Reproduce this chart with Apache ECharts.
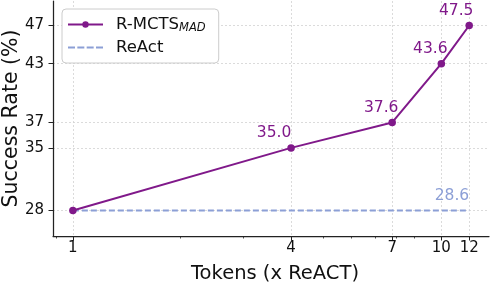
<!DOCTYPE html>
<html><head><meta charset="utf-8">
<script src="https://cdn.jsdelivr.net/npm/echarts@6/dist/echarts.min.js"></script>
<style>html,body{margin:0;padding:0;background:#fff}#c{width:491px;height:283px}</style>
</head><body><div id="c"></div>
<script>
// ---- data ----
const tokens = [1, 4.07, 7.8, 10.7, 12.8];
const tokenTickLabels = ['1', '4', '7', '10', '12'];
const rmctsValues = [28.6, 35.0, 37.6, 43.6, 47.5];
const reactTokens = [1, 12.8];
const reactValues = [28.6, 28.6];
const yTickValues = [28.6, 35.0, 37.6, 43.6, 47.5];
const yTickLabels = ['28', '35', '37', '43', '47'];
const minorTickValues = [0.9, 2, 3, 5, 6, 7, 8, 9];

// ---- styles ----
const FONT = 'DejaVu Sans';
const PURPLE = '#80198a';
const BLUE = '#8c9fd6';
const AXIS = '#222222';
const labelOffsets = [null, [-17, 0], [-11, 0], [-11, 0], [-13, 0]];
const gridLine = { show: true, lineStyle: { type: [2, 2], color: '#d2d2d2', width: 0.8 } };
const dashedIcon = 'path://M0,0h7v2h-7zM9.33,0h7v2h-7zM18.67,0h7v2h-7zM28,0h7v2h-7z';

const chart = echarts.init(document.getElementById('c'), null, { renderer: 'canvas' });

const rmctsData = tokens.map((x, i) => {
  const item = { value: [x, rmctsValues[i]] };
  if (labelOffsets[i]) {
    item.label = { show: true, position: 'top', distance: 3, offset: labelOffsets[i] };
  }
  return item;
});
const reactData = reactTokens.map((x, i) => ({ value: [x, reactValues[i]] }));

chart.setOption({
  animation: false,
  backgroundColor: '#ffffff',
  textStyle: { fontFamily: FONT },
  grid: { left: 53, right: 2, top: 1, bottom: 47, containLabel: false, outerBoundsMode: 'none' },
  legend: {
    orient: 'vertical', left: 62, top: 9,
    padding: [7, 13, 7, 5],
    itemWidth: 35, itemHeight: 8, itemGap: 5,
    backgroundColor: '#ffffff', borderColor: '#cccccc', borderWidth: 1, borderRadius: 4,
    data: [{ name: 'R-MCTS' }, { name: 'ReAct', icon: dashedIcon, itemStyle: { color: BLUE } }],
    formatter: name => name === 'R-MCTS' ? '{m|R-MCTS}{s|MAD}' : '{m|ReAct}',
    textStyle: {
      fontFamily: FONT, color: '#111111',
      rich: {
        m: { fontFamily: FONT, fontSize: 16.5, color: '#111111', padding: [0, 0, 0, 8] },
        s: { fontFamily: FONT, fontSize: 11.5, fontStyle: 'italic', color: '#111111', padding: [7, 0, 0, 0] }
      }
    }
  },
  xAxis: [{
    type: 'log', logBase: 10, min: 0.88, max: 14.54,
    name: 'Tokens (x ReACT)', nameLocation: 'middle', nameGap: 28,
    nameTextStyle: { fontFamily: FONT, fontSize: 19.5, color: '#111111', padding: [0, 0, 0, 8] },
    axisLine: { show: true, lineStyle: { color: AXIS, width: 1.25 } },
    axisTick: { show: true, customValues: tokens, length: 4.5, lineStyle: { color: AXIS, width: 1 } },
    axisLabel: {
      customValues: tokens, margin: 5, fontFamily: FONT, fontSize: 15, color: '#111111',
      formatter: v => { const k = tokens.indexOf(v); return k >= 0 ? tokenTickLabels[k] : String(Math.floor(v)); }
    },
    splitLine: gridLine,
    minorTick: { show: false }, minorSplitLine: { show: false }
  }, {
    type: 'log', logBase: 10, min: 0.88, max: 14.54, position: 'bottom',
    axisLine: { show: false },
    axisTick: { show: true, customValues: minorTickValues, length: 2.5, lineStyle: { color: AXIS, width: 0.8 } },
    axisLabel: { show: false },
    splitLine: { show: false }
  }],
  yAxis: {
    type: 'value', min: 26, max: 50,
    name: 'Success Rate (%)', nameLocation: 'middle', nameGap: 31, nameMoveOverlap: false,
    nameTextStyle: { fontFamily: FONT, fontSize: 20.5, color: '#111111' },
    axisLine: { show: true, lineStyle: { color: AXIS, width: 1.25 } },
    axisTick: { show: true, customValues: yTickValues, length: 4.5, lineStyle: { color: AXIS, width: 1 } },
    axisLabel: {
      customValues: yTickValues, margin: 9, fontFamily: FONT, fontSize: 15, color: '#111111',
      formatter: v => { const k = yTickValues.indexOf(v); return k >= 0 ? yTickLabels[k] : String(Math.floor(v)); }
    },
    splitLine: gridLine
  },
  series: [{
    name: 'ReAct', type: 'line', xAxisIndex: 0, yAxisIndex: 0,
    data: reactData, showSymbol: false, symbol: 'none', z: 2,
    lineStyle: { color: BLUE, width: 2, type: [6, 3] },
    itemStyle: { color: BLUE },
    endLabel: {
      show: true, fontFamily: FONT, fontSize: 15.5, color: BLUE,
      align: 'right', distance: 0, offset: [0, -15],
      formatter: p => p.value[1].toFixed(1)
    },
    emphasis: { disabled: true }
  }, {
    name: 'R-MCTS', type: 'line', xAxisIndex: 0, yAxisIndex: 0,
    data: rmctsData, symbol: 'circle', symbolSize: 7.5, z: 3,
    lineStyle: { color: PURPLE, width: 2 },
    itemStyle: { color: PURPLE },
    label: { fontFamily: FONT, fontSize: 15.5, color: PURPLE, formatter: p => p.value[1].toFixed(1) },
    emphasis: { disabled: true }
  }]
});
</script>
</body></html>
